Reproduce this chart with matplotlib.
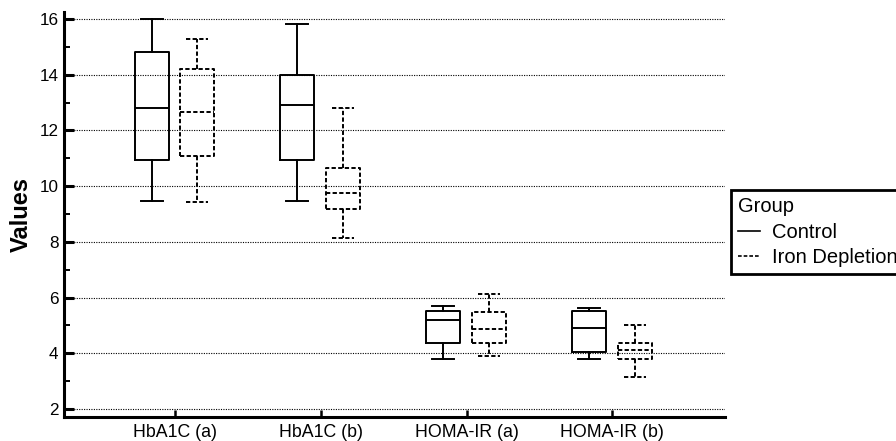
import matplotlib
matplotlib.use("Agg")
import matplotlib.pyplot as plt
from matplotlib.lines import Line2D

plt.rcParams['font.family'] = ['Liberation Sans', 'DejaVu Sans']

categories = ["HbA1C (a)", "HbA1C (b)", "HOMA-IR (a)", "HOMA-IR (b)"]
groups = ["Control", "Iron Depletion"]

control_whislo = [9.48, 9.48, 3.79, 3.79]
control_q1 = [10.94, 10.94, 4.36, 4.03]
control_med = [12.79, 12.91, 5.20, 4.91]
control_q3 = [14.80, 14.00, 5.51, 5.51]
control_whishi = [16.00, 15.82, 5.70, 5.61]

iron_whislo = [9.42, 8.14, 3.90, 3.13]
iron_q1 = [11.09, 9.18, 4.36, 3.79]
iron_med = [12.67, 9.76, 4.87, 4.12]
iron_q3 = [14.20, 10.64, 5.48, 4.36]
iron_whishi = [15.28, 12.79, 6.12, 5.00]

yticks = [2, 4, 6, 8, 10, 12, 14, 16]

fig = plt.figure(figsize=(8.96, 4.41), dpi=100)
ax = fig.add_axes([64 / 896, 24 / 441, (725 - 64) / 896, (417 - 12) / 441])


def make_stats(lo, q1, med, q3, hi):
    return [dict(whislo=a, q1=b, med=c, q3=d, whishi=e, fliers=[])
            for a, b, c, d, e in zip(lo, q1, med, q3, hi)]


xs = list(range(1, len(categories) + 1))
lw = 1.4
solid = '-'
dashed = (0, (2.2, 1.2))

for stats, offset, ls in [
    (make_stats(control_whislo, control_q1, control_med, control_q3, control_whishi), -0.16, solid),
    (make_stats(iron_whislo, iron_q1, iron_med, iron_q3, iron_whishi), 0.153, dashed),
]:
    style = dict(color='black', linewidth=lw, linestyle=ls)
    ax.bxp(stats, positions=[x + offset for x in xs], widths=0.233,
           capwidths=0.15, showfliers=False, patch_artist=False,
           boxprops=style, whiskerprops=style, capprops=style,
           medianprops=style, manage_ticks=False, zorder=3)

ax.set_xlim(0.239, 4.773)
ax.set_ylim(1.71, 16.25)
ax.set_xticks(xs)
ax.set_xticklabels(categories, fontsize=12.8)
ax.set_yticks(yticks)
ax.set_yticklabels([str(v) for v in yticks], fontsize=12.3)
ax.set_yticks(list(range(3, 17, 2)), minor=True)

ax.yaxis.grid(True, which='major', color='black', linestyle=(0, (1, 1.2)),
              linewidth=0.8, zorder=0)
ax.set_axisbelow(True)

for s in ['top', 'right']:
    ax.spines[s].set_visible(False)
for s in ['left', 'bottom']:
    ax.spines[s].set_linewidth(2.2)

ax.tick_params(axis='y', which='major', direction='in', length=7.5, width=2.2, pad=4)
ax.tick_params(axis='y', which='minor', direction='in', length=4.5, width=1.4)
ax.tick_params(axis='x', which='major', direction='in', length=5, width=1.8, pad=5)

ax.set_ylabel("Values", fontsize=17, fontweight='bold', labelpad=5)

handles = [Line2D([], [], color='black', linewidth=1.2, linestyle='-'),
           Line2D([], [], color='black', linewidth=1.2, linestyle=(0, (2.2, 1.2)))]
leg = fig.legend(handles, groups, title="Group", loc='upper left',
                 bbox_to_anchor=(730.7 / 896, (441 - 190) / 441),
                 fontsize=14.5, title_fontsize=14.5, alignment='left',
                 handlelength=1.1, handletextpad=0.6, borderpad=0.35,
                 labelspacing=0.33, borderaxespad=0, fancybox=False,
                 framealpha=1, edgecolor='black')
leg.get_frame().set_linewidth(2.0)

fig.savefig("out.png", dpi=100)
